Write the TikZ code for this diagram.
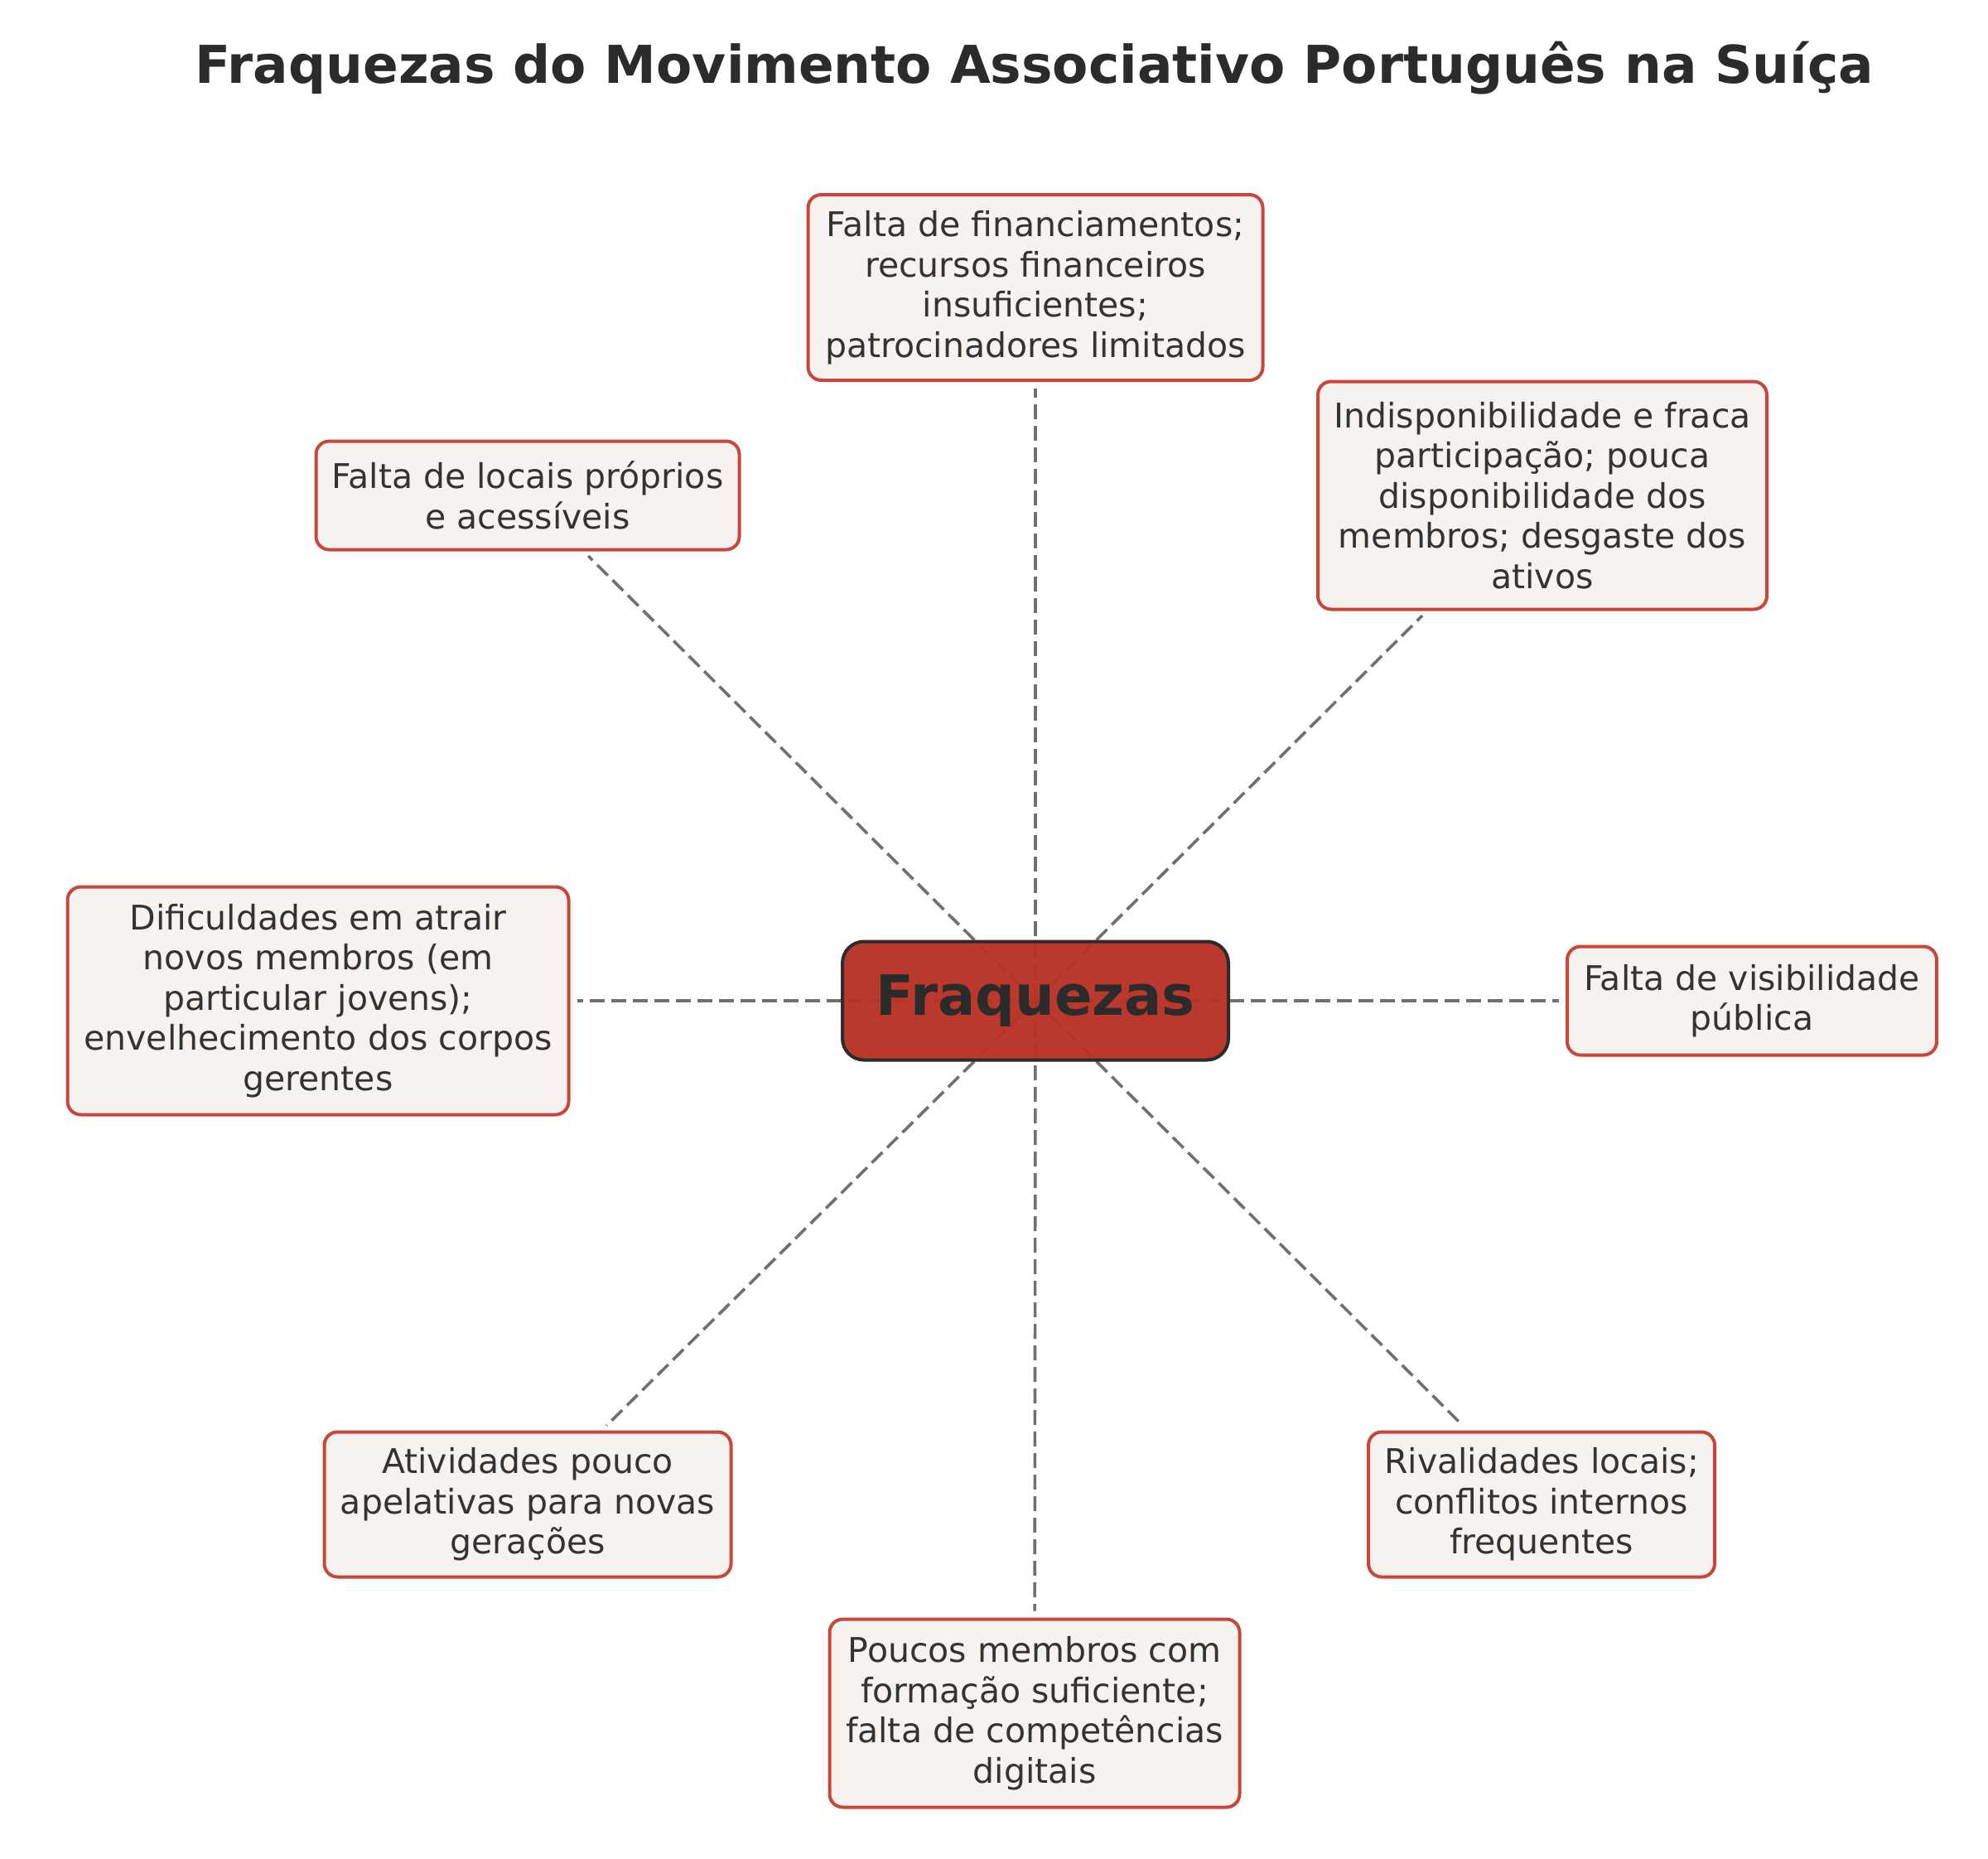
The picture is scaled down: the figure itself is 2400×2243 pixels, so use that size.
\documentclass[tikz,border=0pt]{standalone}
\usepackage{fontspec}
\setmainfont{DejaVu Sans}
\usetikzlibrary{backgrounds}
\definecolor{boxred}{HTML}{C8473A}
\definecolor{boxfill}{HTML}{F6F2EF}
\definecolor{centerfill}{HTML}{B93226}
\definecolor{darkline}{HTML}{2B2B2B}
\definecolor{textdark}{HTML}{333333}
\definecolor{linkgray}{HTML}{707070}
\begin{document}
\begin{tikzpicture}[x=1pt,y=-1pt,
  box/.style={draw=boxred, line width=4pt, fill=boxfill, rounded corners=16pt,
    align=center, font=\fontsize{41}{48.5}\selectfont, text=textdark, inner sep=0pt},
  hub/.style={draw=darkline, line width=4pt, fill=centerfill, fill opacity=0.97, text opacity=1,
    rounded corners=26pt, font=\bfseries\fontsize{67}{70}\selectfont, text=darkline,
    minimum width=466pt, minimum height=143pt, inner sep=0pt},
  link/.style={draw=linkgray, line width=3.6pt, dash pattern=on 18pt off 8pt, shorten >=8pt},
  titlestyle/.style={font=\bfseries\fontsize{63}{68}\selectfont, text=darkline, inner sep=0pt}]
\useasboundingbox (0,0) rectangle (2400,2243);

\node[titlestyle] (title) at (1249,82) {Fraquezas do Movimento Associativo Português na Suíça};

\node[hub] (c) at (1250,1208) {Fraquezas};

\node[box, minimum width=549pt, minimum height=224pt] (b1) at (1250,347)
  {Falta de financiamentos;\\recursos financeiros\\insuficientes;\\patrocinadores limitados};
\node[box, minimum width=511pt, minimum height=131pt] (b2) at (637,598)
  {Falta de locais próprios\\e acessíveis};
\node[box, minimum width=542pt, minimum height=275pt] (b3) at (1862,598)
  {Indisponibilidade e fraca\\participação; pouca\\disponibilidade dos\\membros; desgaste dos\\ativos};
\node[box, minimum width=605pt, minimum height=275pt] (b4) at (384,1208)
  {Dificuldades em atrair\\novos membros (em\\particular jovens);\\envelhecimento dos corpos\\gerentes};
\node[box, minimum width=446pt, minimum height=131pt] (b5) at (2115,1208)
  {Falta de visibilidade\\pública};
\node[box, minimum width=491pt, minimum height=175pt] (b6) at (637,1816)
  {Atividades pouco\\apelativas para novas\\gerações};
\node[box, minimum width=418pt, minimum height=175pt] (b7) at (1861,1816)
  {Rivalidades locais;\\conflitos internos\\frequentes};
\node[box, minimum width=495pt, minimum height=227pt] (b8) at (1249,2068)
  {Poucos membros com\\formação suficiente;\\falta de competências\\digitais};

\begin{pgfonlayer}{background}
\fill[white] (0,0) rectangle (2400,2243);
\foreach \b in {b1,b2,b3,b4,b5,b6,b7,b8}
  \draw[link] (c.center) -- (\b);
\end{pgfonlayer}
\end{tikzpicture}
\end{document}
